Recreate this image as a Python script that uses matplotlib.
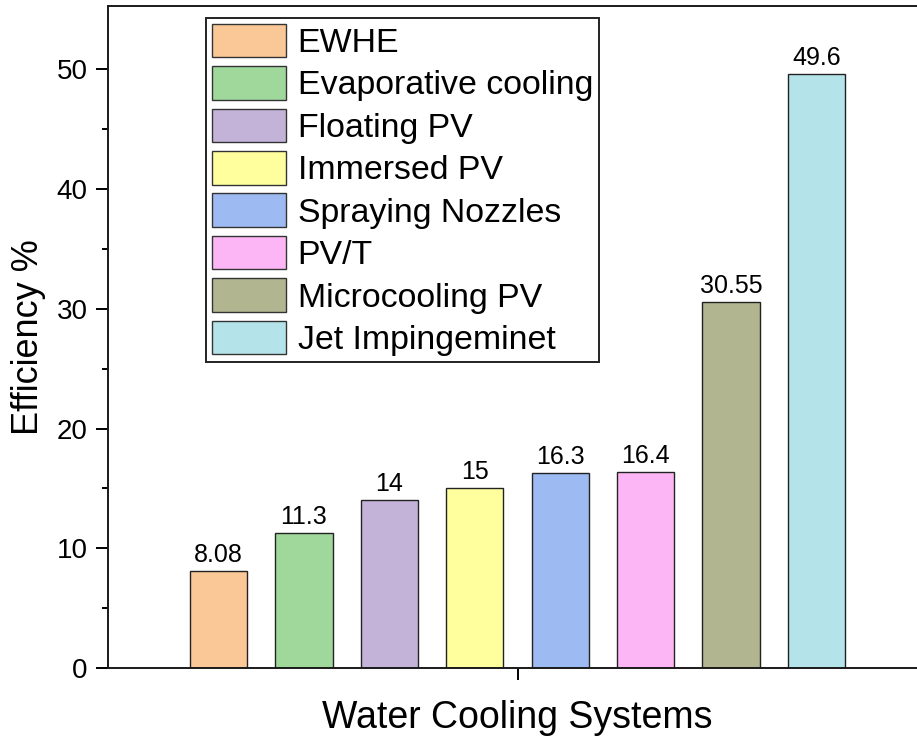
import matplotlib
matplotlib.use("Agg")
import matplotlib.pyplot as plt
import numpy as np
from matplotlib.patches import Patch

plt.rcParams["font.family"] = ["Liberation Sans", "DejaVu Sans"]

SYSTEMS = [
    "EWHE",
    "Evaporative cooling",
    "Floating PV",
    "Immersed PV",
    "Spraying Nozzles",
    "PV/T",
    "Microcooling PV",
    "Jet Impingeminet",
]
EFFICIENCY = [8.08, 11.3, 14, 15, 16.3, 16.4, 30.55, 49.6]
VALUE_LABELS = ["8.08", "11.3", "14", "15", "16.3", "16.4", "30.55", "49.6"]
COLORS = [
    "#fac896",
    "#a0d89c",
    "#c4b3d8",
    "#ffff9e",
    "#9dbaf2",
    "#fdb6f5",
    "#b2b690",
    "#b4e4ea",
]

fig = plt.figure(figsize=(9.17, 7.38), dpi=100)
ax = fig.add_axes([108 / 917, 70 / 738, 819 / 917, 662 / 738])

x = np.arange(len(SYSTEMS))
ax.bar(x, EFFICIENCY, width=0.67, color=COLORS, edgecolor="#222222", linewidth=1.0)
for xi, val, lab in zip(x, EFFICIENCY, VALUE_LABELS):
    ax.annotate(lab, (xi, val), xytext=(0, 3), textcoords="offset points",
                ha="center", va="bottom", fontsize=18)

half = 110.5 / 85.5
ax.set_xlim(-half, len(SYSTEMS) - 1 + half)
ax.set_ylim(0, 55.3)
ax.set_xticks([(len(SYSTEMS) - 1) / 2])
ax.set_xticklabels([""])
ax.set_yticks(np.arange(0, 51, 10))
ax.set_yticks(np.arange(5, 55, 10), minor=True)
ax.tick_params(axis="y", which="major", direction="out", length=8.6, width=1.4, labelsize=20, pad=6)
ax.tick_params(axis="y", which="minor", direction="out", length=4.3, width=1.4)
ax.tick_params(axis="x", which="major", direction="out", length=8.6, width=1.4)
for side in ["left", "bottom", "top", "right"]:
    ax.spines[side].set_linewidth(1.4)
    ax.spines[side].set_color("#1a1a1a")

ax.set_ylabel("Efficiency %", fontsize=26, labelpad=8)
ax.set_xlabel("Water Cooling Systems", fontsize=27, labelpad=11)

handles = [Patch(facecolor=c, edgecolor="#333333", linewidth=1.0) for c in COLORS]
leg = ax.legend(
    handles, SYSTEMS,
    loc="upper left",
    bbox_to_anchor=((206 - 108) / 819, (668 - 18) / 662),
    borderaxespad=0,
    fontsize=24.4,
    handlelength=2.2,
    handleheight=1.15,
    handletextpad=0.33,
    labelspacing=0.21,
    borderpad=0.17,
    fancybox=False,
    framealpha=1,
    edgecolor="#222222",
)
leg.get_frame().set_linewidth(1.4)

fig.savefig("out.png", dpi=100)
